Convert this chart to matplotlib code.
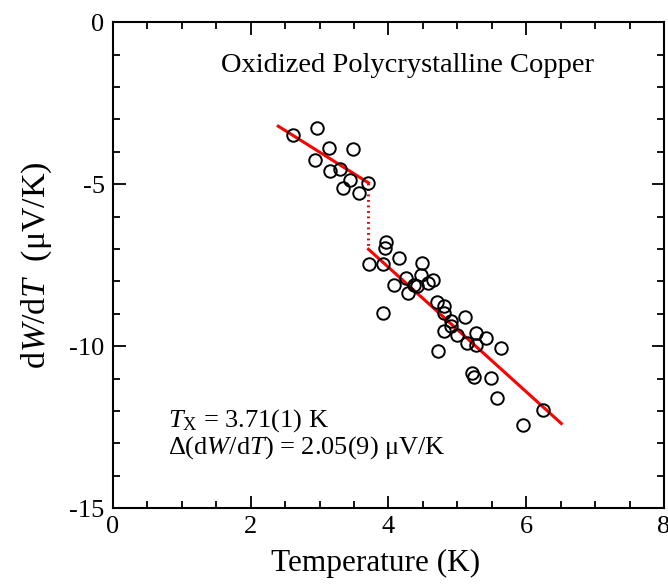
import matplotlib
matplotlib.use("Agg")
import matplotlib.pyplot as plt
from matplotlib.ticker import MultipleLocator

plt.rcParams['font.family'] = ['Liberation Serif', 'DejaVu Serif']
plt.rcParams['mathtext.fontset'] = 'custom'
plt.rcParams['mathtext.rm'] = 'Liberation Serif'
plt.rcParams['mathtext.it'] = 'Liberation Serif:italic'
plt.rcParams['axes.unicode_minus'] = False

# Data points (temperature K, dW/dT uV/K)
temp_upper = [2.609, 2.958, 3.140, 3.485, 2.928, 3.146, 3.300, 3.441, 3.698, 3.339, 3.567]
dwdt_upper = [-3.49, -3.27, -3.87, -3.90, -4.25, -4.59, -4.52, -4.88, -4.96, -5.13, -5.28]

temp_lower = [3.964, 3.949, 3.721, 3.916, 4.152, 4.482, 4.472, 4.254, 4.084, 4.283,
              4.378, 4.421, 4.578, 4.650, 4.701, 4.803, 4.813, 5.106, 4.907, 4.903,
              4.806, 4.999, 5.270, 5.416, 5.147, 5.278, 5.629, 3.916, 4.722, 5.212,
              5.249, 5.495, 5.580, 6.248, 5.957]
dwdt_lower = [-6.80, -6.98, -7.45, -7.47, -7.29, -7.44, -7.79, -7.91, -8.10, -8.36,
              -8.12, -8.15, -8.05, -7.96, -8.63, -8.75, -8.98, -9.10, -9.21, -9.39,
              -9.54, -9.65, -9.60, -9.74, -9.90, -9.98, -10.05, -8.97, -10.14, -10.84,
              -10.95, -10.98, -11.60, -11.98, -12.44]

# Fit lines
fit_upper_x = [2.40, 3.71]
fit_upper_y = [-3.21, -4.96]
jump_x = [3.71, 3.71]
jump_y = [-4.96, -7.01]
fit_lower_x = [3.71, 6.51]
fit_lower_y = [-7.01, -12.39]

fig = plt.figure(figsize=(6.68, 5.84), dpi=100)
ax = fig.add_axes([0.169, 0.130, 0.825, 0.832])

ax.plot(fit_upper_x, fit_upper_y, color='#ff0000', lw=2.2, zorder=2)
ax.plot(jump_x, jump_y, color='#ff0000', lw=2.2, ls=(0, (0.6, 1.2)), zorder=2)
ax.plot(fit_lower_x, fit_lower_y, color='#ff0000', lw=2.2, zorder=2)

ax.plot(temp_upper + temp_lower, dwdt_upper + dwdt_lower, 'o', ls='none',
        mfc='none', mec='black', mew=1.4, ms=9, zorder=3)

ax.set_xlim(0, 8)
ax.set_ylim(-15, 0)
ax.xaxis.set_major_locator(MultipleLocator(2))
ax.xaxis.set_minor_locator(MultipleLocator(0.5))
ax.yaxis.set_major_locator(MultipleLocator(5))
ax.yaxis.set_minor_locator(MultipleLocator(1))
ax.tick_params(which='both', direction='in', top=True, right=True, width=1.3,
               labelsize=19)
ax.tick_params(which='major', length=9, pad=6)
ax.tick_params(which='minor', length=5)
for s in ax.spines.values():
    s.set_linewidth(1.5)

ax.set_xlabel('Temperature (K)', fontsize=22.5, labelpad=11)
ax.xaxis.set_label_coords(0.477, -0.085)
ax.set_ylabel('d$\\it{W}$/d$\\it{T}$  (μV/K)', fontsize=24.5, labelpad=11)

ax.text(0.535, 0.937, 'Oxidized Polycrystalline Copper', transform=ax.transAxes,
        ha='center', va='top', fontsize=20.5)
ax.text(0.100, 0.167, '$\\it{T}_{\\rm X}$ = 3.71(1) K', transform=ax.transAxes,
        ha='left', va='baseline', fontsize=19)
ax.text(0.100, 0.113, 'Δ(d$\\it{W}$/d$\\it{T}$) = 2.05(9) μV/K', transform=ax.transAxes,
        ha='left', va='baseline', fontsize=19)

fig.savefig('out.png', dpi=100)
